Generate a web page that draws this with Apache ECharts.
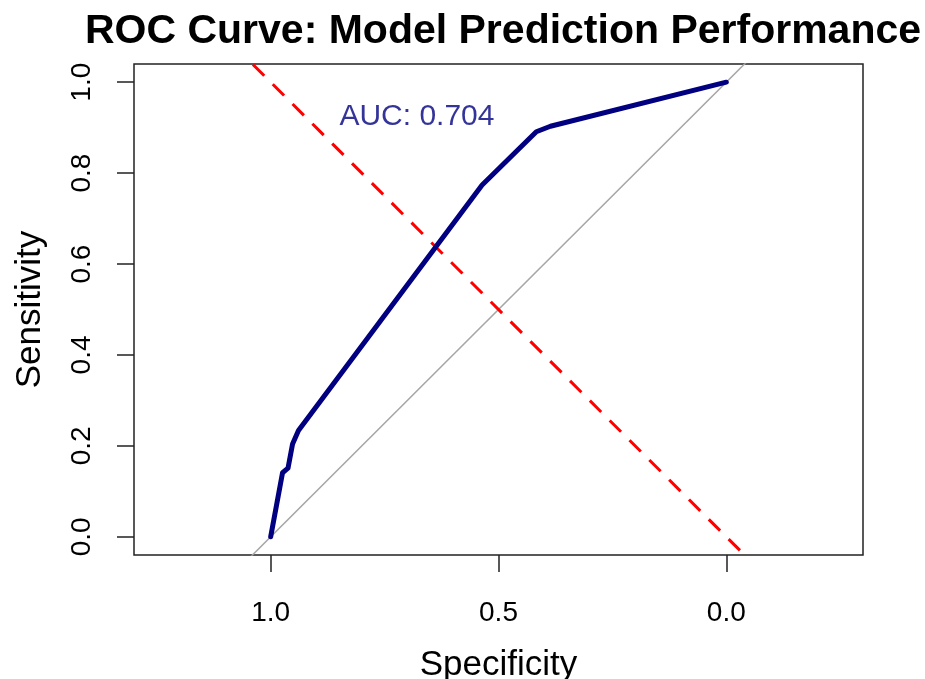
<!DOCTYPE html>
<html>
<head>
<meta charset="utf-8">
<script src="https://cdn.jsdelivr.net/npm/echarts@6/dist/echarts.min.js"></script>
<style>
  html, body { margin: 0; padding: 0; background: #fff; }
  #rocChart { width: 925px; height: 679px; }
</style>
</head>
<body>
<div id="rocChart"></div>
<script>
// ROC curve points: [specificity, sensitivity]
var rocPoints = [
  [1.0, 0.0],
  [0.974, 0.141],
  [0.962, 0.151],
  [0.952, 0.204],
  [0.939, 0.234],
  [0.536, 0.774],
  [0.417, 0.891],
  [0.386, 0.903],
  [0.0, 1.0]
];
// reference lines: chance diagonal and sens = spec
var chanceLine = [[1.3, -0.3], [-0.3, 1.3]];
var equalLine = [[1.3, 1.3], [-0.3, -0.3]];
var xTicks = [0, 0.5, 1];
var yTicks = [0, 0.2, 0.4, 0.6, 0.8, 1];
var aucText = 'AUC: 0.704';
var aucPos = [0.679, 0.923];

var fontFamily = '"Liberation Sans", Arial, Helvetica, sans-serif';
var chartDom = document.getElementById('rocChart');
var myChart = echarts.init(chartDom, null, { renderer: 'canvas' });

var option = {
  animation: false,
  backgroundColor: '#fff',
  textStyle: { fontFamily: fontFamily },
  title: {
    text: 'ROC Curve: Model Prediction Performance',
    left: 498,
    top: 6,
    textAlign: 'center',
    textStyle: { fontSize: 41, fontWeight: 'bold', color: '#000', fontFamily: fontFamily }
  },
  grid: {
    left: 134,
    right: 62,
    top: 64,
    bottom: 124,
    outerBoundsMode: 'none',
    show: true,
    borderColor: '#222',
    borderWidth: 1.5,
    backgroundColor: 'transparent'
  },
  xAxis: {
    type: 'value',
    inverse: true,
    min: -0.3,
    max: 1.3,
    name: 'Specificity',
    nameLocation: 'middle',
    nameGap: 93,
    nameTextStyle: { fontSize: 35, color: '#000', fontFamily: fontFamily },
    axisLine: { show: false, onZero: false },
    splitLine: { show: false },
    axisTick: {
      show: true,
      length: 17,
      customValues: xTicks,
      lineStyle: { color: '#222', width: 1.5 }
    },
    axisLabel: {
      show: true,
      customValues: xTicks,
      margin: 44,
      fontSize: 28,
      color: '#000',
      formatter: function (v) { return v.toFixed(1); }
    }
  },
  yAxis: {
    type: 'value',
    min: -0.04,
    max: 1.04,
    name: 'Sensitivity',
    nameLocation: 'middle',
    nameRotate: 90,
    nameGap: 86,
    nameTextStyle: { fontSize: 35, color: '#000', fontFamily: fontFamily },
    axisLine: { show: false, onZero: false },
    splitLine: { show: false },
    axisTick: {
      show: true,
      length: 17,
      customValues: yTicks,
      lineStyle: { color: '#222', width: 1.5 }
    },
    axisLabel: {
      show: true,
      customValues: yTicks,
      rotate: 90,
      margin: 38,
      fontSize: 28,
      color: '#000',
      formatter: function (v) { return v.toFixed(1); }
    }
  },
  series: [
    {
      name: 'chance',
      type: 'line',
      data: chanceLine,
      symbol: 'none',
      clip: true,
      lineStyle: { color: '#a6a6a6', width: 1.5 },
      z: 1
    },
    {
      name: 'equal',
      type: 'line',
      data: equalLine,
      symbol: 'none',
      clip: true,
      lineStyle: { color: '#ff0000', width: 3, type: [16, 12] },
      z: 2
    },
    {
      name: 'roc',
      type: 'line',
      data: rocPoints,
      symbol: 'none',
      clip: true,
      lineStyle: { color: '#000080', width: 5, join: 'round', cap: 'round' },
      z: 3
    },
    {
      name: 'auc',
      type: 'scatter',
      data: [aucPos],
      symbolSize: 0,
      silent: true,
      label: {
        show: true,
        position: 'inside',
        formatter: aucText,
        fontSize: 30,
        color: '#000080',
        fontFamily: fontFamily
      },
      z: 4
    }
  ]
};

option && myChart.setOption(option, true);
</script>
</body>
</html>
